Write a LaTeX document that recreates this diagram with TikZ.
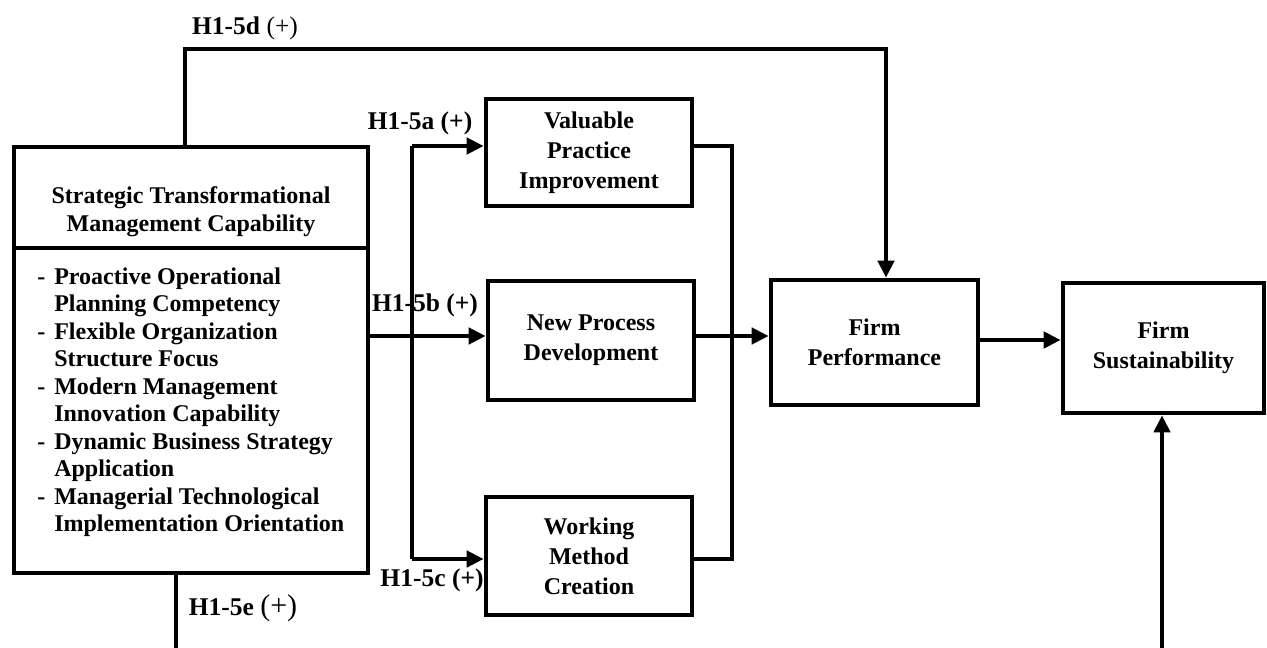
\documentclass[tikz,border=0pt]{standalone}
\usepackage{fontspec}
\setmainfont{Liberation Serif}
\usetikzlibrary{arrows.meta}
\begin{document}
\begin{tikzpicture}[x=1pt,y=-1pt,
  line width=4.6pt,
  box/.style={draw,line width=4.6pt,inner sep=0pt,align=center,
    font=\bfseries\fontsize{24}{30}\selectfont},
  lbl/.style={inner sep=0pt,font=\fontsize{25.5}{28}\selectfont},
  arr/.style={-{Triangle[length=17pt,width=16pt]}}]
\useasboundingbox (0,0) rectangle (1267,648);

% main construct with its dimensions
\node[box,minimum width=354pt,minimum height=426pt] (stmc) at (191,360) {};
\draw (stmc.west |- 0,248) -- (stmc.east |- 0,248);
\node[inner sep=0pt,align=center,font=\bfseries\fontsize{24}{28}\selectfont] (title) at (191,212)
  {Strategic Transformational\\Management Capability};
\node[inner sep=0pt,align=left,anchor=west,font=\bfseries\fontsize{24}{27.5}\selectfont] (dims) at (35,402)
  {\makebox[17pt][l]{-}Proactive Operational\\
   \hspace*{17pt}Planning Competency\\
   \makebox[17pt][l]{-}Flexible Organization\\
   \hspace*{17pt}Structure Focus\\
   \makebox[17pt][l]{-}Modern Management\\
   \hspace*{17pt}Innovation Capability\\
   \makebox[17pt][l]{-}Dynamic Business Strategy\\
   \hspace*{17pt}Application\\
   \makebox[17pt][l]{-}Managerial Technological\\
   \hspace*{17pt}Implementation Orientation};

% mediators and outcomes
\node[box,minimum width=206pt,minimum height=107pt] (vpi) at (589,152.5) {Valuable\\Practice\\Improvement};
\node[box,minimum width=206pt,minimum height=119pt] (npd) at (591,340.5) {New Process\\Development};
\node[box,minimum width=206pt,minimum height=118pt] (wmc) at (589,556) {Working\\Method\\Creation};
\node[box,minimum width=207pt,minimum height=125pt] (fp) at (874.5,342.5) {Firm\\Performance};
\node[box,minimum width=201pt,minimum height=130pt] (fs) at (1163.5,348) {Firm\\Sustainability};

% helper points for the routed connectors
\coordinate (d1) at (185,49);
\coordinate (d2) at (886,49);
\coordinate (ba) at (412,146);
\coordinate (bc) at (412,559);
\coordinate (ra) at (732,146);
\coordinate (rc) at (732,559);
\coordinate (e1) at (176,648);
\coordinate (s1) at (1162,648);

% H1-5d
\draw[arr] (stmc.north -| d1) -- (d1) -- (d2) -- (d2 |- fp.north);
% H1-5a / H1-5c bus
\draw (ba) -- (bc);
\draw[arr] (ba) -- (ba -| vpi.west);
\draw[arr] (bc) -- (bc -| wmc.west);
% H1-5b
\draw[arr] (stmc.east |- 0,336) -- (npd.west |- 0,336);
% mediators to performance
\draw (vpi.east |- ra) -- (ra) -- (rc) -- (wmc.east |- rc);
\draw[arr] (npd.east |- 0,336) -- (fp.west |- 0,336);
% performance to sustainability
\draw[arr] (fp.east |- 0,340) -- (fs.west |- 0,340);
% H1-5e
\draw (stmc.south -| e1) -- (e1);
\draw[arr] (s1) -- (s1 |- fs.south);

% path labels
\node[lbl] (ld) at (245,28) {\textbf{H1-5d} (+)};
\node[lbl] (la) at (420,123) {\textbf{H1-5a (+)}};
\node[lbl] (lb) at (425,305) {\textbf{H1-5b (+)}};
\node[lbl] (lc) at (432,580) {\textbf{H1-5c (+)}};
\node[lbl] (le) at (243,608) {\textbf{H1-5e} {\fontsize{30}{32}\selectfont(+)}};
\end{tikzpicture}
\end{document}
